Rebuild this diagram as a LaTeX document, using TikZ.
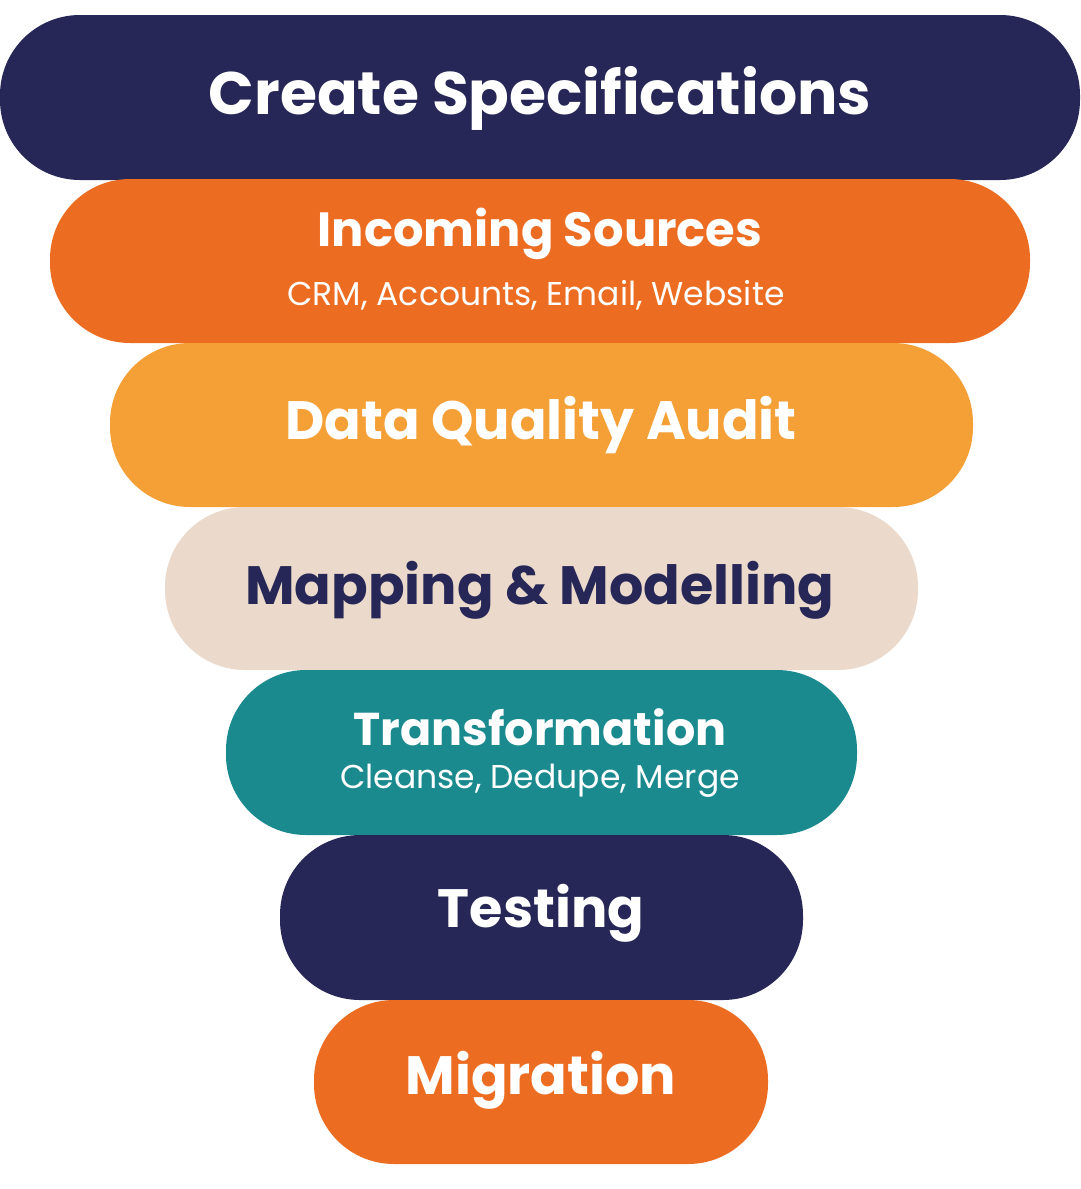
\documentclass[tikz,border=0pt]{standalone}
\usepackage{fontspec}
\setmainfont{Poppins}
\definecolor{navy}{HTML}{262756}
\definecolor{orng}{HTML}{EC6C21}
\definecolor{amber}{HTML}{F4A037}
\definecolor{beige}{HTML}{EBDACB}
\definecolor{teal}{HTML}{1B8A8F}
\tikzset{pill/.style={rounded corners=80pt},
 ttl/.style={font=\fontsize{54}{60}\selectfont\bfseries, text=white, anchor=center, inner sep=0},
 sub/.style={font=\fontsize{33}{38}\selectfont, text=white, anchor=center, inner sep=0}}
\begin{document}
\begin{tikzpicture}[x=1pt,y=-1pt]
\useasboundingbox (0,0) rectangle (1080,1189);
\fill[navy,pill] (0,15) rectangle (1080,180);
\fill[orng,pill] (50,179) rectangle (1030,343);
\fill[amber,pill] (110,343) rectangle (973,507);
\fill[beige,pill] (165,507) rectangle (918,670);
\fill[teal,pill] (226,670) rectangle (857,835);
\fill[navy,pill] (280,835) rectangle (803,1000);
\fill[orng,pill] (314,1000) rectangle (768,1164);
\node[ttl,font=\fontsize{60}{66}\selectfont\bfseries] (t1) at (540,98) {Create Specifications};
\node[ttl,font=\fontsize{48}{54}\selectfont\bfseries] (t2) at (540,234) {Incoming Sources};
\node[sub] (s2) at (536,295) {CRM, Accounts, Email, Website};
\node[ttl] (t3) at (541,425) {Data Quality Audit};
\node[ttl,text=navy] (t4) at (540,590) {Mapping \& Modelling};
\node[ttl,font=\fontsize{46}{52}\selectfont\bfseries] (t5) at (540,727) {Transformation};
\node[sub] (s5) at (540,781) {Cleanse, Dedupe, Merge};
\node[ttl] (t6) at (541,913) {Testing};
\node[ttl] (t7) at (541,1080) {Migration};
\end{tikzpicture}
\end{document}
